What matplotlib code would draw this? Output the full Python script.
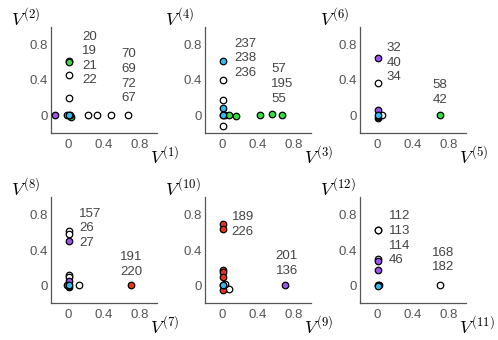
import matplotlib
matplotlib.use("Agg")
import matplotlib.pyplot as plt

GREEN = "#33dd44"
BLUE = "#33bbee"
PURPLE = "#9955ee"
RED = "#ee3311"
OPEN = "white"
DARK = "#111111"

# (x, y, face) per panel; open circles are white-filled
pts_1 = [(0.0, 0.62, OPEN), (0.0, 0.60, GREEN), (0.0, 0.46, OPEN), (0.0, 0.20, OPEN),
         (0.22, 0.0, OPEN), (0.32, 0.0, OPEN), (0.48, 0.0, OPEN), (0.67, 0.0, OPEN),
         (-0.16, 0.0, PURPLE), (0.01, -0.01, DARK), (0.03, -0.02, GREEN), (0.02, 0.0, OPEN),
         (-0.02, 0.0, BLUE), (0.0, 0.0, BLUE)]
pts_2 = [(0.0, 0.62, BLUE), (0.0, 0.40, OPEN), (0.0, 0.17, OPEN), (0.0, 0.08, BLUE),
         (0.0, -0.12, OPEN), (0.03, 0.0, OPEN), (0.0, 0.0, DARK), (0.07, 0.0, GREEN),
         (0.15, -0.01, GREEN), (0.42, 0.0, GREEN), (0.56, 0.01, GREEN), (0.67, 0.0, GREEN),
         (0.0, 0.0, BLUE)]
pts_3 = [(0.0, 0.65, PURPLE), (0.0, 0.37, OPEN), (0.0, 0.06, PURPLE), (0.05, 0.0, OPEN),
         (0.0, -0.03, DARK), (0.0, 0.0, BLUE), (0.70, 0.0, GREEN)]
pts_4 = [(0.0, 0.62, OPEN), (0.0, 0.58, OPEN), (0.0, 0.50, PURPLE), (0.0, 0.12, OPEN),
         (0.0, 0.09, OPEN), (0.0, 0.05, PURPLE), (-0.02, 0.0, RED), (0.12, 0.0, OPEN),
         (0.0, -0.02, DARK), (0.0, 0.0, BLUE), (0.70, 0.0, RED)]
pts_5 = [(0.0, 0.69, RED), (0.0, 0.64, RED), (0.0, 0.17, RED), (0.0, 0.15, RED),
         (0.0, 0.10, RED), (0.07, -0.04, OPEN), (0.03, 0.02, OPEN), (0.0, -0.05, RED),
         (0.0, 0.0, DARK), (0.0, 0.0, BLUE), (0.70, 0.0, PURPLE)]
pts_6 = [(0.0, 0.63, DARK), (0.0, 0.63, OPEN), (0.0, 0.30, OPEN), (0.0, 0.28, PURPLE),
         (0.0, 0.17, PURPLE), (0.02, 0.0, RED), (0.0, 0.0, DARK), (0.0, -0.01, BLUE),
         (0.70, 0.0, OPEN)]

# label columns: (x, y of first line, lines)
labels_1 = [(0.15, 0.89, ["20", "19", "21", "22"]), (0.60, 0.69, ["70", "69", "72", "67"])]
labels_2 = [(0.13, 0.81, ["237", "238", "236"]), (0.55, 0.52, ["57", "195", "55"])]
labels_3 = [(0.10, 0.76, ["32", "40", "34"]), (0.62, 0.34, ["58", "42"])]
labels_4 = [(0.12, 0.81, ["157", "26", "27"]), (0.58, 0.32, ["191", "220"])]
labels_5 = [(0.10, 0.77, ["189", "226"]), (0.60, 0.33, ["201", "136"])]
labels_6 = [(0.13, 0.78, ["112", "113", "114", "46"]), (0.62, 0.37, ["168", "182"])]

panels = [pts_1, pts_2, pts_3, pts_4, pts_5, pts_6]
labels = [labels_1, labels_2, labels_3, labels_4, labels_5, labels_6]
ticks = [0, 0.4, 0.8]
tick_text = ["0", "0.4", "0.8"]

W, H = 498, 340
lefts = [51, 205, 360]
tops = [27, 197]
size = 106

fig = plt.figure(figsize=(W / 100, H / 100), dpi=100)
line_step = 0.165

for i, (pts, labs) in enumerate(zip(panels, labels)):
    r, c = divmod(i, 3)
    ax = fig.add_axes([lefts[c] / W, 1 - (tops[r] + size) / H, size / W, size / H])
    for x, y, face in pts:
        ax.scatter(x, y, s=22, facecolor=face, edgecolor="black", linewidths=0.9,
                   zorder=3, clip_on=False)
    for x, y, lines in labs:
        for k, t in enumerate(lines):
            ax.text(x, y - k * line_step, t, fontsize=9.5, color="#444444",
                    family="Liberation Sans", va="center", ha="left")
    ax.set_xlim(-0.2, 1.0)
    ax.set_ylim(-0.2, 1.0)
    ax.set_xticks(ticks)
    ax.set_xticklabels(tick_text)
    ax.set_yticks(ticks)
    ax.set_yticklabels(tick_text)
    ax.tick_params(length=0, labelsize=9.5, colors="#555555")
    ax.tick_params(axis="y", pad=2.5)
    ax.tick_params(axis="x", pad=4)
    for lab in ax.get_xticklabels() + ax.get_yticklabels():
        lab.set_family("Liberation Sans")
    for s in ["top", "right"]:
        ax.spines[s].set_visible(False)
    for s in ["left", "bottom"]:
        ax.spines[s].set_color("#555555")
        ax.spines[s].set_linewidth(0.9)
    n = 2 * i + 1
    ax.text(0.93, -0.22, r"$V^{(%d)}$" % n, transform=ax.transAxes, fontsize=13,
            math_fontfamily="cm", ha="left", va="center")
    ax.text(-0.38, 1.08, r"$V^{(%d)}$" % (n + 1), transform=ax.transAxes, fontsize=13,
            math_fontfamily="cm", ha="left", va="center")

fig.savefig("out.png", dpi=100)
